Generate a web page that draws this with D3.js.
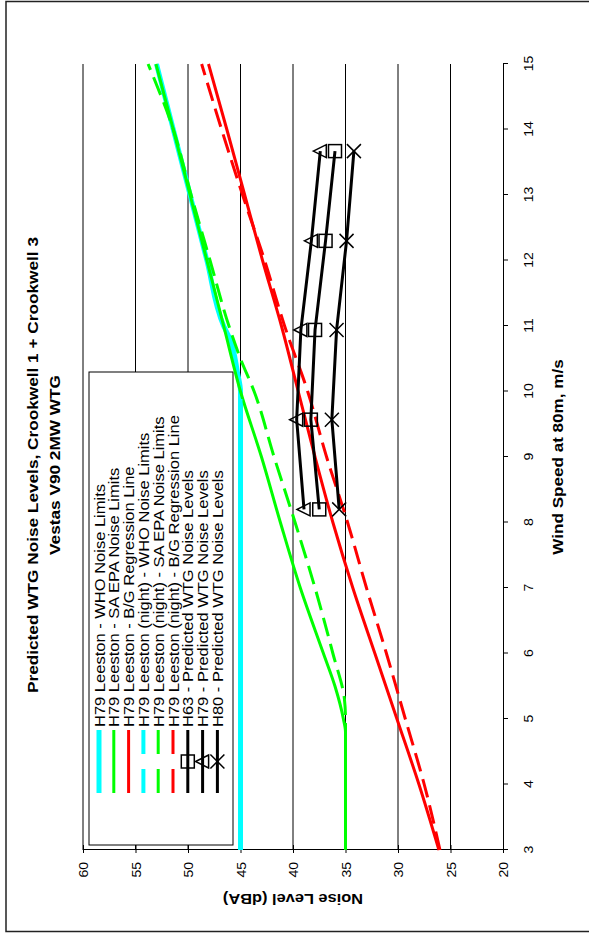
<!DOCTYPE html>
<html>
<head>
<meta charset="utf-8">
<script src="https://cdn.jsdelivr.net/npm/d3@7"></script>
<style>
  body { margin: 0; background: #fff; }
  text { font-family: "Liberation Sans", Arial, sans-serif; fill: #000; }
</style>
</head>
<body>
<svg id="chart" width="589" height="936"></svg>
<script>
// chart is drawn upright (936 wide x 589 tall) then turned a quarter left
const windTicks = [3, 4, 5, 6, 7, 8, 9, 10, 11, 12, 13, 14, 15];
const noiseTicks = [20, 25, 30, 35, 40, 45, 50, 55, 60];

const windWho = [3, 4, 5, 6, 7, 8, 9, 10, 10.3, 10.8, 11, 12, 13, 14, 15];
const whoDay = [45, 45, 45, 45, 45, 45, 45, 45, 45.3, 46.0, 46.6, 48.2, 49.8, 51.4, 53.0];

const windEpa = [3, 4, 4.8, 5, 5.5, 6, 7, 8, 9, 10, 11, 12, 13, 14, 15];
const epaDay = [35, 35, 35, 35.2, 36.0, 37.1, 39.3, 41.2, 43.0, 45.0, 46.6, 48.2, 49.8, 51.4, 53.05];

const windBg = [3, 4, 5, 6, 7, 8, 9, 10, 11, 12, 13, 14, 15];
const bgDay = [26.1, 28.0, 30.1, 32.2, 34.3, 36.2, 37.9, 39.5, 41.1, 42.9, 44.6, 46.3, 48.05];

const windWhoNight = [3, 4, 5, 6, 7, 8, 9, 10];
const whoNight = [45, 45, 45, 45, 45, 45, 45, 45];

const windEpaNight = [3, 4, 5, 5.3, 6, 7, 8, 9, 10, 10.5, 11, 12, 13, 14, 15];
const epaNight = [35, 35, 35, 35.1, 36.2, 37.9, 39.8, 41.8, 43.7, 45.0, 46.1, 47.9, 49.7, 51.4, 53.8];

const bgNight = [26.0, 27.5, 29.3, 31.1, 33.0, 34.8, 36.8, 38.6, 40.8, 42.7, 44.8, 46.8, 48.7];

const windWtg = [8.2, 9.57, 10.94, 12.3, 13.67];
const h63 = [37.5, 38.3, 37.9, 36.9, 36.0];
const h79 = [38.95, 39.65, 39.25, 38.25, 37.4];
const h80 = [35.6, 36.3, 35.85, 34.9, 34.2];

const legendLabels = [
  'H79 Leeston - WHO Noise Limits',
  'H79 Leeston - SA EPA Noise Limits',
  'H79 Leeston - B/G Regression Line',
  'H79 Leeston (night) - WHO Noise Limits',
  'H79 Leeston (night) - SA EPA Noise Limits',
  'H79 Leeston (night) - B/G Regression Line',
  'H63 - Predicted WTG Noise Levels',
  'H79 - Predicted WTG Noise Levels',
  'H80 - Predicted WTG Noise Levels'
];

const series = [
  { xs: windWho, ys: whoDay, color: '#00ffff', width: 5, dash: null, marker: null, smooth: true },
  { xs: windEpa, ys: epaDay, color: '#00ff00', width: 3, dash: null, marker: null, smooth: true },
  { xs: windBg, ys: bgDay, color: '#ff0000', width: 3, dash: null, marker: null, smooth: true },
  { xs: windWhoNight, ys: whoNight, color: '#00ffff', width: 4, dash: '19,8', marker: null, smooth: true },
  { xs: windEpaNight, ys: epaNight, color: '#00ff00', width: 3, dash: '19,8', marker: null, smooth: true },
  { xs: windBg, ys: bgNight, color: '#ff0000', width: 3, dash: '19,8', marker: null, smooth: true },
  { xs: windWtg, ys: h63, color: '#000', width: 3, dash: null, marker: 'square', smooth: false },
  { xs: windWtg, ys: h79, color: '#000', width: 3, dash: null, marker: 'triangle', smooth: false },
  { xs: windWtg, ys: h80, color: '#000', width: 3, dash: null, marker: 'cross', smooth: false }
];

const W = 936, H = 589;
const svg = d3.select('svg#chart');
const g = svg.append('g').attr('transform', `translate(0,${W}) rotate(-90)`);

const x = d3.scaleLinear().domain([3, 15]).range([86, 872]);
const y = d3.scaleLinear().domain([20, 60]).range([503, 83]);

const stretch = (sel, k) => {
  sel.each(function () {
    const len = this.getComputedTextLength();
    this.setAttribute('textLength', len * k);
    this.setAttribute('lengthAdjust', 'spacingAndGlyphs');
  });
};

// outer frame
g.append('rect')
  .attr('x', 4.5).attr('y', 6).attr('width', 930).attr('height', 600)
  .attr('fill', 'none').attr('stroke', '#222').attr('stroke-width', 1.5);

// gridlines
g.append('g').selectAll('line')
  .data(noiseTicks.filter(d => d > 20))
  .enter().append('line')
    .attr('x1', x(3)).attr('x2', x(15))
    .attr('y1', d => y(d)).attr('y2', d => y(d))
    .attr('stroke', '#000').attr('stroke-width', 1);

// noise axis (left when upright)
const yAxis = g.append('g')
  .attr('transform', `translate(${x(3)},0)`)
  .call(d3.axisLeft(y).tickValues(noiseTicks).tickSizeOuter(0));
yAxis.select('.domain').attr('stroke', '#000');
yAxis.selectAll('.tick line').attr('x1', 5).attr('x2', -3).attr('stroke', '#000');
yAxis.selectAll('.tick text')
  .attr('x', -12).attr('dy', '0.36em')
  .style('font-size', '13px').style('font-family', '"Liberation Sans", Arial, sans-serif')
  .attr('fill', '#000');
stretch(yAxis.selectAll('.tick text'), 1.08);

// wind axis (bottom when upright)
const xAxis = g.append('g')
  .attr('transform', `translate(0,${y(20)})`)
  .call(d3.axisBottom(x).tickValues(windTicks).tickSize(5).tickSizeOuter(0));
xAxis.select('.domain').attr('stroke', '#000');
xAxis.selectAll('.tick line').attr('stroke', '#000');
xAxis.selectAll('.tick text')
  .attr('y', 30).attr('dy', null)
  .style('font-size', '13px').style('font-family', '"Liberation Sans", Arial, sans-serif')
  .attr('fill', '#000');
stretch(xAxis.selectAll('.tick text'), 1.08);

// legend box goes under the data lines
const lg = g.append('g');
lg.append('rect')
  .attr('x', 91).attr('y', 89).attr('width', 473).attr('height', 144)
  .attr('fill', '#fff').attr('stroke', '#000').attr('stroke-width', 1);

const marker = (sel, type, cx, cy) => {
  if (type === 'square') {
    sel.append('rect').attr('x', cx - 6.5).attr('y', cy - 6.5).attr('width', 13).attr('height', 13)
      .attr('fill', 'none').attr('stroke', '#000').attr('stroke-width', 1.5);
  } else if (type === 'triangle') {
    sel.append('path').attr('d', `M${cx},${cy - 7}L${cx + 6.5},${cy + 6}L${cx - 6.5},${cy + 6}Z`)
      .attr('fill', 'none').attr('stroke', '#000').attr('stroke-width', 1.5);
  } else if (type === 'cross') {
    sel.append('path').attr('d', `M${cx - 7},${cy - 7}L${cx + 7},${cy + 7}M${cx - 7},${cy + 7}L${cx + 7},${cy - 7}`)
      .attr('fill', 'none').attr('stroke', '#000').attr('stroke-width', 1.5);
  }
};

// data lines
series.forEach(s => {
  const pts = s.xs.map((w, i) => [w, s.ys[i]]);
  const line = d3.line()
    .x(d => x(d[0])).y(d => y(d[1]))
    .curve(s.smooth ? d3.curveMonotoneX : d3.curveLinear);
  g.append('path')
    .attr('d', line(pts))
    .attr('fill', 'none')
    .attr('stroke', s.color)
    .attr('stroke-width', s.width)
    .attr('stroke-dasharray', s.dash)
    .attr('stroke-linejoin', 'round');
  if (s.marker) {
    const mg = g.append('g');
    pts.forEach(p => marker(mg, s.marker, x(p[0]), y(p[1])));
  }
});

// legend entries
legendLabels.forEach((label, i) => {
  const s = series[i];
  const ry = 99 + i * 14.8;
  lg.append('line')
    .attr('x1', 143).attr('x2', 206).attr('y1', ry).attr('y2', ry)
    .attr('stroke', s.color).attr('stroke-width', s.width)
    .attr('stroke-dasharray', s.dash ? '24,15' : null);
  if (s.marker) marker(lg, s.marker, 174.5, ry);
  lg.append('text')
    .attr('x', 209).attr('y', ry + 5.5)
    .style('font-size', '15px')
    .text(label);
});
stretch(lg.selectAll('text'), 1.1);

// titles
const t1 = g.append('text')
  .attr('x', 471).attr('y', 38).attr('text-anchor', 'middle')
  .style('font-size', '14px').style('font-weight', 'bold')
  .text('Predicted WTG Noise Levels, Crookwell 1 + Crookwell 3');
const t2 = g.append('text')
  .attr('x', 471).attr('y', 60).attr('text-anchor', 'middle')
  .style('font-size', '14px').style('font-weight', 'bold')
  .text('Vestas V90 2MW WTG');
stretch(t1, 1.23);
stretch(t2, 1.23);

const xt = g.append('text')
  .attr('x', (x(3) + x(15)) / 2).attr('y', 563).attr('text-anchor', 'middle')
  .style('font-size', '14px').style('font-weight', 'bold')
  .text('Wind Speed at 80m, m/s');
stretch(xt, 1.22);

const yt = g.append('text')
  .attr('transform', `translate(42,${(y(20) + y(60)) / 2}) rotate(-90)`)
  .attr('text-anchor', 'middle')
  .style('font-size', '14px').style('font-weight', 'bold')
  .text('Noise Level (dBA)');
stretch(yt, 1.17);
</script>
</body>
</html>
